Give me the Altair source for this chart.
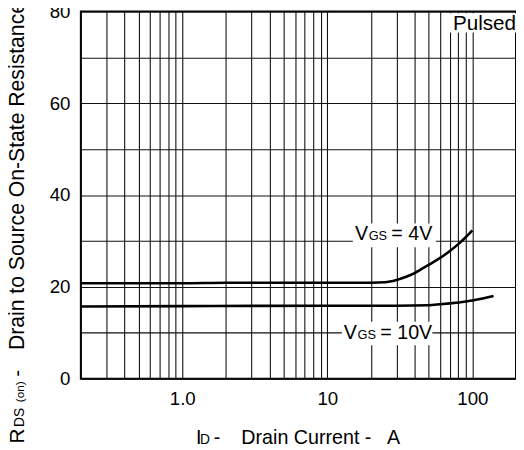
import altair as alt
import pandas as pd

# ---- data ----
id_4v = [0.2, 0.5, 1, 2, 5, 10, 20, 25, 30, 35, 40, 50, 60, 70, 80, 90, 100]
r_4v = [20.8, 20.8, 20.8, 20.9, 20.9, 20.9, 20.9, 21.0, 21.5, 22.2, 23.0, 24.8, 26.3, 27.8, 29.3, 30.8, 32.3]
id_10v = [0.2, 1, 10, 30, 50, 60, 70, 80, 100, 120, 140]
r_10v = [15.7, 15.8, 15.9, 15.9, 16.0, 16.2, 16.4, 16.6, 17.0, 17.5, 18.0]

x_grid = [0.2, 0.3, 0.4, 0.5, 0.6, 0.7, 0.8, 0.9, 1, 2, 3, 4, 5, 6, 7, 8, 9,
          10, 20, 30, 40, 50, 60, 70, 80, 90, 100]
y_grid = [0, 5, 10, 15, 20, 25, 30, 35, 40, 45, 50, 55, 60, 65, 70, 75, 80]

# label boxes (white backgrounds) in data units
box_x = [15, 12.6, 70]
box_x2 = [56, 53, 200]
box_y = [28.6, 7.3, 75.4]
box_y2 = [33.8, 12.4, 79.6]

# annotation anchors
lab_x = [15.5, 13.0]
lab_y = [30.3, 8.6]
lab_tail = ["= 4V", "= 10V"]
pulsed_x = [73.5]
pulsed_y = [75.9]

# axis title pieces
y_title_parts = ["R", "DS", "(on)", "-", "Drain to Source On-State Resistance"]
x_title_parts = ["I", "D", "-", "Drain Current -", "A"]

FONT = "Liberation Sans"

curves = pd.DataFrame({
    "id": id_4v + id_10v,
    "r": r_4v + r_10v,
    "s": ["4V"] * len(id_4v) + ["10V"] * len(id_10v),
})
boxes = pd.DataFrame({"x": box_x, "x2": box_x2, "y": box_y, "y2": box_y2})
labs = pd.DataFrame({"x": lab_x, "y": lab_y, "tail": lab_tail})
pulsed = pd.DataFrame({"x": pulsed_x, "y": pulsed_y, "t": ["Pulsed"]})

xscale = alt.Scale(type="log", domain=[0.2, 200], nice=False)
yscale = alt.Scale(domain=[0, 80], nice=False)

xaxis = alt.Axis(
    values=x_grid, grid=True, ticks=False, domain=False,
    labelExpr="datum.value == 1 ? '1.0' : (datum.value == 10 ? '10' : (datum.value == 100 ? '100' : ''))",
    labelOverlap=False, labelFontSize=19, labelPadding=11, labelFont=FONT, labelColor="black",
    title=None,
)
yaxis = alt.Axis(
    values=y_grid, grid=True, ticks=False, domain=False,
    labelExpr="datum.value % 20 == 0 ? datum.label : ''",
    labelOverlap=False, labelFontSize=19, labelPadding=11, labelFont=FONT, labelColor="black",
    title=None,
)

lines = alt.Chart(curves).mark_line(color="black", strokeWidth=2.6, interpolate="monotone").encode(
    x=alt.X("id:Q", scale=xscale, axis=xaxis),
    y=alt.Y("r:Q", scale=yscale, axis=yaxis),
    detail="s:N",
)

rects = alt.Chart(boxes).mark_rect(color="white").encode(
    x=alt.X("x:Q", scale=xscale), x2="x2:Q",
    y=alt.Y("y:Q", scale=yscale), y2="y2:Q",
)

v_big = alt.Chart(labs).mark_text(align="left", baseline="alphabetic", fontSize=20, font=FONT, color="black").encode(
    x=alt.X("x:Q", scale=xscale), y=alt.Y("y:Q", scale=yscale), text=alt.value("V"))
v_sub = alt.Chart(labs).mark_text(align="left", baseline="alphabetic", fontSize=13, font=FONT, color="black", dx=14).encode(
    x=alt.X("x:Q", scale=xscale), y=alt.Y("y:Q", scale=yscale), text=alt.value("GS"))
v_tail = alt.Chart(labs).mark_text(align="left", baseline="alphabetic", fontSize=20, font=FONT, color="black", dx=37).encode(
    x=alt.X("x:Q", scale=xscale), y=alt.Y("y:Q", scale=yscale), text="tail:N")
p_text = alt.Chart(pulsed).mark_text(align="left", baseline="alphabetic", fontSize=21, font=FONT, color="black").encode(
    x=alt.X("x:Q", scale=xscale), y=alt.Y("y:Q", scale=yscale), text="t:N")


def piece(txt, size, x, y, angle=0):
    m = alt.Chart(pd.DataFrame({"t": [txt]})).mark_text(
        align="left", baseline="alphabetic", fontSize=size, font=FONT, color="black", angle=angle)
    return m.encode(x=alt.value(x), y=alt.value(y), text="t:N")


y_title = [
    piece(y_title_parts[0], 21, -58, 439, 270),
    piece(y_title_parts[1], 14, -58, 422, 270),
    piece(y_title_parts[2], 12, -58, 397, 270),
    piece(y_title_parts[3], 21, -58, 371, 270),
    piece(y_title_parts[4], 21.5, -58, 344, 270),
]
x_title = [
    piece(x_title_parts[0], 20, 117, 439),
    piece(x_title_parts[1], 14, 121, 439),
    piece(x_title_parts[2], 20, 135, 439),
    piece(x_title_parts[3], 20, 163, 439),
    piece(x_title_parts[4], 20, 311, 439),
]

chart = alt.layer(rects, lines, v_big, v_sub, v_tail, p_text, *y_title, *x_title).properties(
    width=442, height=373,
    autosize=alt.AutoSizeParams(type="none"),
    padding={"left": 74, "top": 0, "right": 0, "bottom": 69},
    background="white",
).configure_view(
    stroke="black", strokeWidth=2,
).configure_axis(
    gridColor="#111111", gridWidth=1.1, gridOpacity=1,
)

chart.save("out.html", embed_options={"renderer": "svg", "actions": False})
